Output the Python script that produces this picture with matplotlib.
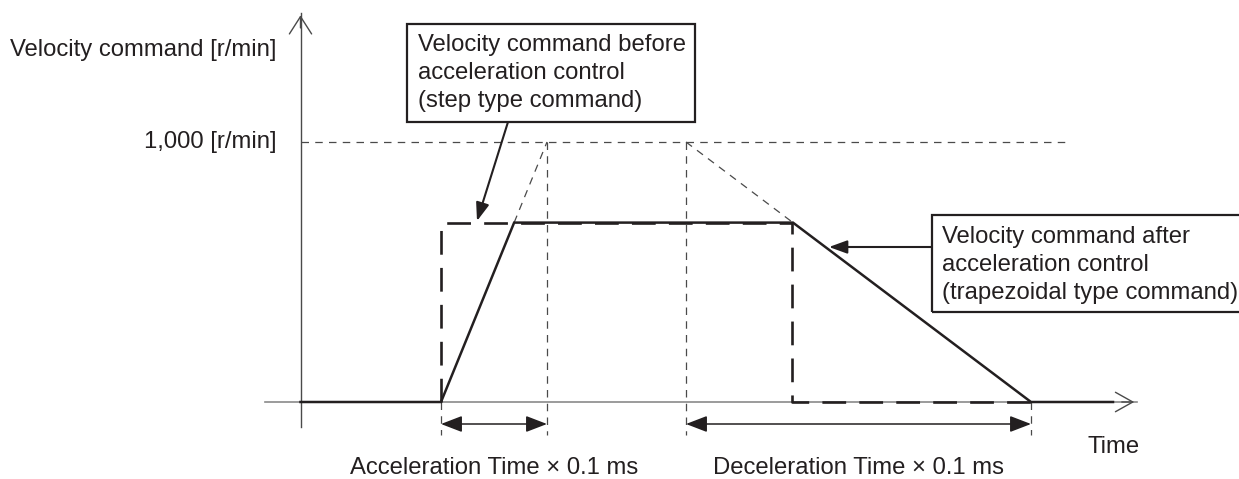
"""Velocity command before/after acceleration control (step vs trapezoid)."""

import matplotlib

matplotlib.use("Agg")
import matplotlib.pyplot as plt  # noqa: E402
from matplotlib.patches import Rectangle  # noqa: E402

# time axis values (arbitrary units) and velocity levels [r/min]
t_step_on = 1.405        # step command switches on / ramp starts
t_accel_end = 2.465      # ramp would reach 1,000 r/min here
t_decel_start = 3.855    # decel ramp starts from 1,000 r/min
t_step_off = 4.915       # step command switches off
t_decel_end = 7.305      # decel ramp reaches zero
t_tail = 8.125           # end of the drawn command line
v_max = 1000
v_cmd = 690

velocity_label = "Velocity command [r/min]"
vmax_label = "1,000 [r/min]"
time_label = "Time"
accel_label = "Acceleration Time \u00d7 0.1 ms"
decel_label = "Deceleration Time \u00d7 0.1 ms"
before_text = ["Velocity command before", "acceleration control", "(step type command)"]
after_text = ["Velocity command after", "acceleration control", "(trapezoidal type command)"]

INK = "#231f20"
GUIDE = "#4a4a4a"
AXIS = "#8a8a8a"
FONT = "Liberation Sans"
FS = 17.2

W, H = 1239, 479
X0, Y0 = 300.5, 402.0       # pixel position of origin
SX, SY = 100.0, 0.26        # pixels per time unit / per r/min


def px(x, y):
    """Pixel position (from top-left) -> data coordinates."""
    return (x - X0) / SX, (Y0 - y) / SY


fig = plt.figure(figsize=(W / 100, H / 100), dpi=100)
ax = fig.add_axes([0, 0, 1, 1])
ax.set_xlim(px(0, 0)[0], px(W, 0)[0])
ax.set_ylim(px(0, H)[1], px(0, 0)[1])
ax.axis("off")

# ramp slopes from the guide lines
acc_slope = v_max / (t_accel_end - t_step_on)
dec_slope = v_max / (t_decel_end - t_decel_start)
t_reach = t_step_on + v_cmd / acc_slope
t_fall = t_decel_start + (v_max - v_cmd) / dec_slope
v_below = px(0, 435)[1]
v_dim = px(0, 424)[1]

# axes: time baseline and velocity axis with open arrowheads
bx0, _ = px(265, 0)
bx1, _ = px(1137, 0)
ax.plot([bx0, bx1], [0, 0], color=AXIS, lw=1.2, zorder=1)
ax.annotate("", xy=(bx1, 0), xytext=(bx1 - 0.18, 0),
            arrowprops=dict(arrowstyle="->,head_length=1.25,head_width=0.7",
                            color=GUIDE, lw=1.0))
_, vy0 = px(0, 427)
_, vy1 = px(0, 12.5)
ax.plot([0, 0], [vy0, vy1], color=GUIDE, lw=1.0, zorder=1)
ax.annotate("", xy=(0, vy1), xytext=(0, vy1 - 70),
            arrowprops=dict(arrowstyle="->,head_length=1.25,head_width=0.8",
                            color=GUIDE, lw=1.0))

# thin dashed guides
thin = dict(color=GUIDE, lw=0.9, dashes=(6, 5), zorder=2)
ax.plot([0, px(1065, 0)[0]], [v_max, v_max], **thin)
ax.plot([t_reach, t_accel_end], [v_cmd, v_max], **thin)
ax.plot([t_decel_start, t_fall], [v_max, v_cmd], **thin)
ax.plot([t_accel_end, t_accel_end], [v_max, v_below], **thin)
ax.plot([t_decel_start, t_decel_start], [v_max, v_below], **thin)
ax.plot([t_step_on, t_step_on], [0, v_below], **thin)
ax.plot([t_decel_end, t_decel_end], [0, v_below], **thin)

# step command (thick dashed)
ax.plot([t_step_on, t_step_on, t_step_off, t_step_off, t_decel_end],
        [0, v_cmd, v_cmd, 0, 0], color=INK, lw=1.9, dashes=(9, 5), zorder=3)

# trapezoid command (solid)
ax.plot([0, t_step_on, t_reach, t_fall, t_decel_end, t_tail],
        [0, 0, v_cmd, v_cmd, 0, 0], color=INK, lw=1.8, zorder=4,
        solid_joinstyle="miter")

# dimension arrows
dim = dict(arrowstyle="<|-|>,head_length=1.3,head_width=0.5", color=INK,
           lw=1.1, shrinkA=0, shrinkB=0)
ax.annotate("", xy=(t_step_on, v_dim), xytext=(t_accel_end, v_dim), arrowprops=dim)
ax.annotate("", xy=(t_decel_start, v_dim), xytext=(t_decel_end, v_dim), arrowprops=dim)

# callout boxes
for (x0, y0, x1, y1), lines, tx, ty in [
    ((407, 24, 695, 122), before_text, 418, 45),
    ((932, 215, 1250, 312), after_text, 942, 237),
]:
    (ax0, ay1), (ax1, ay0) = px(x0, y0), px(x1, y1)
    ax.add_patch(Rectangle((ax0, ay0), ax1 - ax0, ay1 - ay0, fill=False,
                           ec=INK, lw=1.6, zorder=5, clip_on=False))
    for i, line in enumerate(lines):
        ax.text(*px(tx, ty + i * 27.8), line, ha="left", va="center",
                fontsize=FS, family=FONT, color=INK, zorder=6)

call = dict(arrowstyle="-|>,head_length=1.1,head_width=0.4", color=INK,
            lw=1.5, shrinkA=0, shrinkB=0)
ax.annotate("", xy=px(477, 221), xytext=px(508, 122), arrowprops=call)
ax.annotate("", xy=px(829, 247), xytext=px(932, 247), arrowprops=call)

# labels
txt = dict(fontsize=FS, family=FONT, color=INK, va="center")
ax.text(*px(277, 50), velocity_label, ha="right", **txt)
ax.text(*px(277, 142), vmax_label, ha="right", **txt)
ax.text(*px(1088, 447), time_label, ha="left", **txt)
ax.text((t_step_on + t_accel_end) / 2, px(0, 468)[1], accel_label, ha="center", **txt)
ax.text((t_decel_start + t_decel_end) / 2, px(0, 468)[1], decel_label, ha="center", **txt)

fig.savefig("out.png", dpi=100)
